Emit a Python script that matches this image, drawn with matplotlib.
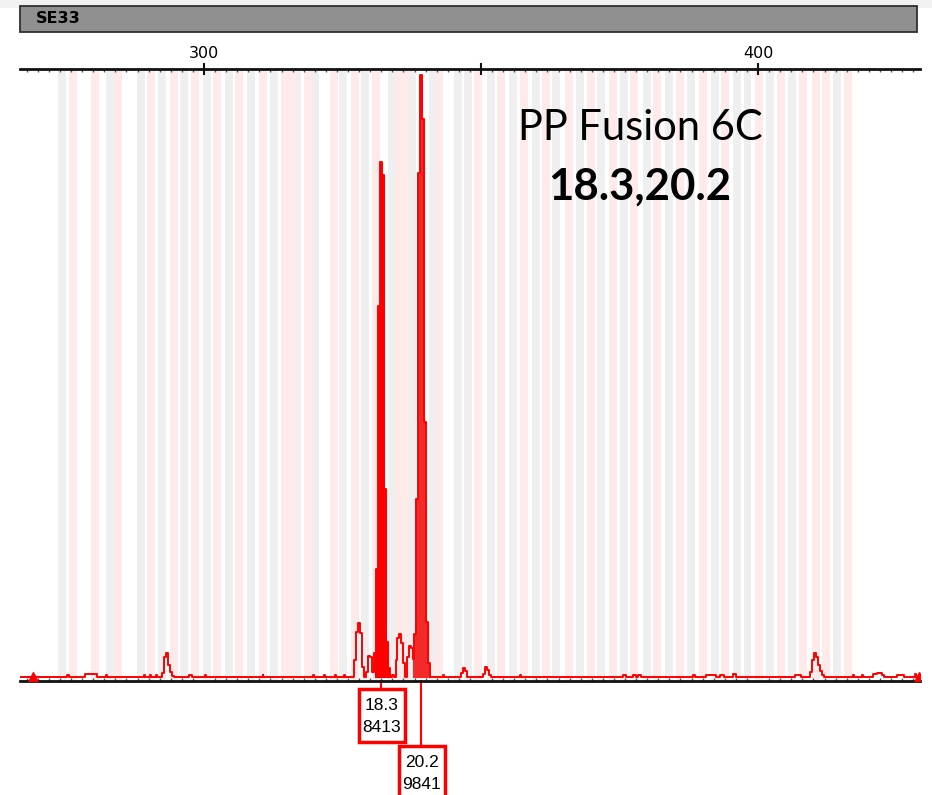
import matplotlib.pyplot as plt
import matplotlib.transforms as mtransforms
from matplotlib.patches import Rectangle
import numpy as np

# SE33 electropherogram, size in bp vs signal in RFU
marker_name = "SE33"
sample_title = "PP Fusion 6C"
genotype = "18.3,20.2"

# called alleles: label, size (bp), height (RFU)
allele_labels = ["18.3", "20.2"]
allele_bp = [331.95, 339.17]
allele_rfu = [8413, 9841]

# bin centres (bp): allele bins in grey, virtual bins in pink
grey_bins = [274.4, 283.1, 288.6, 292.5, 296.4, 300.5, 304.5, 308.5, 312.6, 316.8,
             320.0, 325.1, 329.0, 333.9, 337.6, 341.4, 345.8, 347.7, 351.8, 355.7,
             359.9, 363.6, 367.9, 371.7, 375.8, 379.9, 384.0, 387.9, 392.2, 396.2,
             398.1, 402.2, 406.2, 414.3]
pink_bins = [276.4, 280.3, 284.5, 290.5, 294.5, 298.4, 302.4, 306.4, 310.6, 314.6,
             315.9, 318.7, 323.4, 327.3, 331.0, 335.2, 336.2, 342.5, 349.5, 353.6,
             357.8, 361.8, 365.9, 369.9, 373.8, 377.7, 381.8, 386.0, 390.1, 394.0,
             400.2, 404.2, 408.1, 410.4, 412.3, 416.2]

# sampled trace (bp, RFU)
trace_bp = [266.79, 275.09, 275.45, 275.81, 278.34, 278.70, 280.51, 280.87, 282.31, 282.49,
            282.67, 289.17, 289.35, 289.53, 290.25, 290.43, 290.61, 291.16, 291.34, 291.52,
            292.24, 292.60, 292.96, 293.32, 293.68, 294.04, 294.40, 294.77, 297.29, 297.47,
            297.83, 298.01, 300.18, 300.36, 300.54, 310.47, 310.65, 310.83, 319.49, 319.68,
            319.86, 321.66, 321.84, 322.02, 323.47, 323.65, 323.83, 325.27, 325.45, 325.63,
            326.90, 327.26, 327.62, 327.98, 328.34, 328.70, 329.06, 329.42, 329.78, 330.14,
            330.51, 330.87, 331.23, 331.59, 331.95, 332.31, 332.67, 333.03, 333.39, 333.75,
            334.12, 334.48, 334.66, 335.02, 335.38, 335.74, 336.10, 336.46, 336.82, 337.18,
            337.55, 337.73, 338.09, 338.45, 338.81, 339.17, 339.53, 339.89, 340.25, 340.61,
            340.97, 342.96, 343.14, 343.32, 346.21, 346.57, 346.93, 347.29, 347.65, 350.18,
            350.54, 350.90, 351.26, 351.62, 351.99, 356.86, 357.04, 357.22, 375.45, 375.63,
            375.99, 376.17, 377.26, 377.44, 377.80, 377.98, 378.70, 378.88, 388.09, 388.45,
            388.81, 392.33, 392.51, 393.68, 393.86, 395.31, 395.49, 395.85, 396.03, 406.50,
            406.86, 407.58, 407.76, 409.21, 409.57, 409.93, 410.29, 410.65, 411.01, 411.37,
            411.73, 412.09, 416.97, 417.15, 417.33, 418.59, 418.77, 418.95, 420.58, 420.94,
            422.02, 422.56, 422.92, 424.91, 425.27, 426.17, 426.53, 428.16, 428.34, 428.52,
            429.24]
trace_rfu = [0, 0, 35, 0, 0, 50, 50, 0, 0, 35,
             0, 0, 35, 0, 0, 35, 0, 0, 35, 0,
             0, 60, 330, 390, 200, 80, 20, 0, 0, 40,
             40, 0, 0, 35, 0, 0, 35, 0, 0, 35,
             0, 0, 35, 0, 0, 30, 0, 0, 30, 0,
             0, 280, 740, 880, 720, 160, 0, 80, 350, 330,
             80, 400, 1770, 6060, 8413, 8200, 3080, 570, 150, 0,
             40, 0, 280, 640, 700, 560, 230, 0, 330, 510,
             470, 300, 700, 2910, 8230, 9841, 9120, 4170, 900, 230,
             0, 0, 40, 0, 0, 60, 150, 100, 0, 0,
             50, 165, 120, 40, 0, 0, 30, 0, 0, 40,
             40, 0, 0, 40, 40, 0, 35, 0, 0, 40,
             0, 35, 0, 35, 0, 0, 45, 45, 0, 0,
             40, 40, 0, 0, 80, 280, 392, 330, 200, 100,
             40, 0, 0, 35, 0, 0, 35, 0, 0, 45,
             60, 40, 0, 0, 40, 40, 0, 0, 50, 0,
             0]

# sample ranges that are shaded as called peaks
called_ranges = [(330.8, 333.5), (337.6, 340.7)]
called_colors = ["#ff0000", "#f22a2a"]

red = "#ff0000"
narrow = ["Liberation Sans Narrow", "DejaVu Sans"]

fig = plt.figure(figsize=(9.32, 7.95), dpi=100)

# marker header bar
fig.patches.append(Rectangle((0, 0.99), 1, 0.01, transform=fig.transFigure,
                             facecolor="#f2f2f2", edgecolor="none"))
fig.patches.append(Rectangle((0.0215, 0.9597), 0.9624, 0.0327, transform=fig.transFigure,
                             facecolor="#909090", edgecolor="#303030", linewidth=1.3))
fig.text(0.038, 0.9765, marker_name, fontsize=11.5, fontweight="bold", family=narrow,
         ha="left", va="center")

ax = fig.add_axes([0.02146, 0.1434, 0.9657, 0.7698])
ax.set_xlim(266.79, 429.24)
ax.set_ylim(-65, 9935)

for c in grey_bins:
    ax.axvspan(c - 0.72, c + 0.72, color="#efefef", lw=0, zorder=0)
for c in pink_bins:
    ax.axvspan(c - 0.72, c + 0.72, color="#ffeaea", lw=0, zorder=0)

x = np.array(trace_bp)
y = np.array(trace_rfu)
for (lo, hi), col in zip(called_ranges, called_colors):
    m = (x >= lo) & (x <= hi)
    ax.fill_between(x[m], 0, y[m], step="mid", color=col, lw=0.8, edgecolor=col, zorder=2)
ax.plot(x, y, drawstyle="steps-mid", color=red, lw=1.4, zorder=3)

# range end markers
ax.plot([269.1, 429.0], [0, 0], ls="none", marker="^", ms=7, color=red, zorder=4)

for side in ["left", "right"]:
    ax.spines[side].set_visible(False)
for side in ["top", "bottom"]:
    ax.spines[side].set_linewidth(2)
    ax.spines[side].set_color("#111111")

ax.set_yticks([])
ax.set_xticks([300, 350, 400])
ax.set_xticklabels(["300", "", "400"])
ax.set_xticks(np.arange(268, 430, 2), minor=True)
ax.tick_params(axis="x", which="major", top=True, bottom=False, labeltop=True,
               labelbottom=False, direction="inout", length=9, width=1.5, pad=1,
               labelsize=11.5, color="#111111")
ax.tick_params(axis="x", which="minor", top=True, bottom=True, direction="in",
               length=2, width=1, color="#555555")
for lab in ax.get_xticklabels():
    lab.set_family(narrow)

fig.text(0.6867, 0.839, sample_title, fontsize=30, family="Lato", ha="center", va="center")
fig.text(0.6867, 0.7648, genotype, fontsize=31.5, family="Lato", fontweight="bold",
         ha="center", va="center")

# allele call boxes under the baseline
trans = mtransforms.blended_transform_factory(ax.transData, fig.transFigure)
box_tops = [0.1333, 0.0616]
box_h = 0.0667
box_w = 8.4
for lab, bp, rfu, top in zip(allele_labels, allele_bp, allele_rfu, box_tops):
    ax.plot([bp, bp], [0.1434, top], color=red, lw=1.5, transform=trans, clip_on=False)
    ax.add_patch(Rectangle((bp - box_w / 2 + 0.15, top - box_h), box_w, box_h, transform=trans,
                           facecolor="white", edgecolor=red, linewidth=2.5, clip_on=False))
    fig.text(0, top - 0.0201, lab, fontsize=12.5, family="Liberation Sans",
             ha="center", va="center", transform=trans).set_x(bp + 0.15)
    fig.text(0, top - 0.0478, str(rfu), fontsize=12.5, family="Liberation Sans",
             ha="center", va="center", transform=trans).set_x(bp + 0.15)

fig.savefig("out.png", dpi=100)
